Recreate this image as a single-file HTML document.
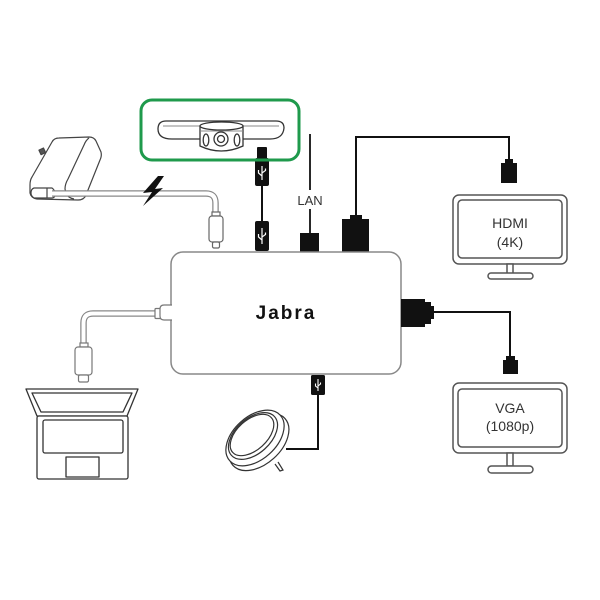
<!DOCTYPE html>
<html><head><meta charset="utf-8"><style>
html,body{margin:0;padding:0;background:#fff;}
svg{display:block;}
text{font-family:"Liberation Sans",sans-serif;}
</style></head><body>
<svg width="600" height="600" viewBox="0 0 600 600" xmlns="http://www.w3.org/2000/svg">
<rect width="600" height="600" fill="#fff"/>

<!-- Power adapter -->
<g fill="#fff" stroke="#444" stroke-width="1.2" stroke-linejoin="round">
  <path d="M52,142 Q54,138 59,138 L89,137 Q94,137 96,141 L101,152 Q102,156 100,160 L86,195 Q84,200 78,200 L37,199 Q31,198 30,193 L30,185 Q30,180 32,177 Z"/>
  <path d="M89,138 Q86,140 84,145 L68,179 Q65,184 65,189 L66,193 Q68,198 74,199" fill="none"/>
  <path d="M34,188 L52,188 Q55,190 55,194 Q55,198 52,198 L34,198 Q31,196 31,193 Q31,189 34,188 Z"/>
  <line x1="47" y1="188" x2="47" y2="198"/>
  <rect x="40" y="149" width="5" height="5" transform="rotate(-25 42 152)" fill="#555"/>
</g>

<!-- Power cable -->
<path d="M52,193.5 L206,193.5 Q215.5,193.5 215.5,203 L215.5,213" fill="none" stroke="#888" stroke-width="6.5"/>
<path d="M52,193.5 L206,193.5 Q215.5,193.5 215.5,203 L215.5,213" fill="none" stroke="#fff" stroke-width="4"/>
<path d="M158,176 L143,193 L152,192 L143,206 L163,188 L155,189 L164,176 Z" fill="#111"/>
<g fill="#fff" stroke="#666" stroke-width="1.2">
  <rect x="212" y="212" width="8" height="4"/>
  <rect x="209" y="216" width="14" height="26" rx="3"/>
  <rect x="212.5" y="242" width="7" height="6" rx="1.5"/>
</g>

<!-- Camera -->
<g fill="#fff" stroke="#333" stroke-width="1.3">
  <path d="M166,121 L276,121 Q284,121 284,128 Q283,139 270,139 L172,139 Q158,139 158,129 Q158,121 166,121 Z"/>
  <line x1="163" y1="126" x2="279" y2="126" stroke="#888" stroke-width="1"/>
  <path d="M200,126 L200,146 Q221,156 243,146 L243,126 Z"/>
  <ellipse cx="221.5" cy="126" rx="21.5" ry="4"/>
  <line x1="200" y1="131" x2="243" y2="131" stroke="#888" stroke-width="1"/>
  <circle cx="221" cy="139" r="7"/>
  <circle cx="221" cy="139" r="3.5"/>
  <ellipse cx="206" cy="140" rx="2.8" ry="6"/>
  <ellipse cx="237" cy="140" rx="2.8" ry="6"/>
</g>
<!-- Camera USB -->
<rect x="257" y="147" width="10" height="13" rx="1" fill="#111"/>
<rect x="255" y="158" width="14" height="28" rx="2" fill="#111"/>
<g stroke="#fff" stroke-width="1.2" fill="none">
  <path d="M262,166 L262,180 M262,176 L258.5,173 L258.5,170 M262,173 L265.5,170.5 L265.5,168.5"/>
</g>
<line x1="262" y1="185" x2="262" y2="222" stroke="#111" stroke-width="2"/>

<!-- Green box -->
<rect x="141" y="100" width="158" height="60" rx="11" fill="none" stroke="#1f9a4c" stroke-width="3"/>

<!-- LAN -->
<line x1="310" y1="134" x2="310" y2="190" stroke="#111" stroke-width="1.8"/>
<text x="310" y="205" font-size="13" text-anchor="middle" fill="#333">LAN</text>
<line x1="310" y1="209" x2="310" y2="234" stroke="#111" stroke-width="1.8"/>
<rect x="300" y="233" width="19" height="19" fill="#111"/>

<!-- HDMI -->
<path d="M356,217 L356,137 L509,137 L509,162" fill="none" stroke="#111" stroke-width="2"/>
<rect x="350" y="215" width="12" height="6" fill="#111"/>
<rect x="342" y="219" width="27" height="33" fill="#111"/>
<rect x="505" y="159" width="8" height="5" fill="#111"/>
<rect x="501" y="163" width="16" height="20" fill="#111"/>

<!-- HDMI monitor -->
<g fill="#fff" stroke="#555" stroke-width="1.5">
  <rect x="453" y="195" width="114" height="69" rx="6"/>
  <rect x="458" y="200" width="104" height="58" rx="4"/>
  <rect x="507" y="264" width="6" height="10"/>
  <rect x="488" y="273" width="45" height="6" rx="3"/>
</g>
<text x="510" y="228" font-size="14" text-anchor="middle" fill="#333">HDMI</text>
<text x="510" y="247" font-size="14" text-anchor="middle" fill="#333">(4K)</text>

<!-- Hub -->
<rect x="171" y="252" width="230" height="122" rx="12" fill="#fff" stroke="#888" stroke-width="1.5"/>
<text x="286" y="319" font-size="19" font-weight="bold" letter-spacing="2" text-anchor="middle" fill="#111">Jabra</text>

<!-- Hub top USB -->
<rect x="255" y="221" width="14" height="30" rx="2" fill="#111"/>
<g stroke="#fff" stroke-width="1.2" fill="none">
  <path d="M262,228 L262,244 M262,240 L258.5,237 L258.5,234 M262,237 L265.5,234.5 L265.5,232.5"/>
</g>

<!-- VGA -->
<rect x="401" y="299" width="24" height="28" fill="#111"/>
<rect x="424" y="302" width="7" height="22" fill="#111"/>
<rect x="430" y="306" width="4" height="13" fill="#111"/>
<path d="M434,312 L510,312 L510,357" fill="none" stroke="#111" stroke-width="2"/>
<rect x="506" y="356" width="9" height="6" fill="#111"/>
<rect x="503" y="360" width="15" height="14" fill="#111"/>

<!-- VGA monitor -->
<g fill="#fff" stroke="#555" stroke-width="1.5">
  <rect x="453" y="383" width="114" height="70" rx="6"/>
  <rect x="458" y="389" width="104" height="58" rx="4"/>
  <rect x="507" y="453" width="6" height="13"/>
  <rect x="488" y="466" width="45" height="7" rx="3.5"/>
</g>
<text x="510" y="413" font-size="14" text-anchor="middle" fill="#333">VGA</text>
<text x="510" y="431" font-size="14" text-anchor="middle" fill="#333">(1080p)</text>

<!-- Bottom USB to speaker -->
<rect x="311" y="375" width="14" height="20" rx="1.5" fill="#111"/>
<g stroke="#fff" stroke-width="1.1" fill="none">
  <path d="M318,379 L318,391 M318,388 L315.5,386 L315.5,383.5 M318,386 L320.5,384 L320.5,382.5"/>
</g>
<path d="M318,395 L318,449 L286,449" fill="none" stroke="#111" stroke-width="2"/>

<!-- Speaker puck -->
<g fill="#fff" stroke="#333" stroke-width="1.2">
  <path d="M278,462 L283,470 L280,471 L275,464" />
  <ellipse cx="259" cy="442" rx="35" ry="22" transform="rotate(-42 259 442)"/>
  <ellipse cx="255" cy="438" rx="34" ry="21.5" transform="rotate(-42 255 438)"/>
  <ellipse cx="253" cy="436" rx="29" ry="17.5" transform="rotate(-42 253 436)"/>
  <ellipse cx="252" cy="435" rx="26" ry="15" transform="rotate(-42 252 435)"/>
</g>

<!-- Left USB-C to laptop -->
<path d="M157,313.5 L93,313.5 Q83.5,313.5 83.5,323 L83.5,344" fill="none" stroke="#888" stroke-width="6.5"/>
<path d="M157,313.5 L93,313.5 Q83.5,313.5 83.5,323 L83.5,344" fill="none" stroke="#fff" stroke-width="4"/>
<g fill="#fff" stroke="#777" stroke-width="1.2">
  <rect x="155" y="308.5" width="7" height="10" rx="1"/>
  <path d="M172,305 L164,305 Q160,305 160,309 L160,316 Q160,320 164,320 L172,320"/>
  <rect x="80" y="343" width="8" height="4"/>
  <rect x="75" y="347" width="17" height="28" rx="3"/>
  <rect x="78.5" y="375" width="10" height="7" rx="1.5"/>
</g>

<!-- Laptop -->
<g fill="#fff" stroke="#333" stroke-width="1.3" stroke-linejoin="round">
  <path d="M26,389 L138,389 L127,416 L37,416 Z"/>
  <path d="M32,393 L132,393 L123,412 L41,412 Z"/>
  <rect x="37" y="416" width="91" height="63" rx="2"/>
  <rect x="43" y="420" width="80" height="33" rx="2"/>
  <rect x="66" y="457" width="33" height="20"/>
</g>
</svg>
</body></html>
